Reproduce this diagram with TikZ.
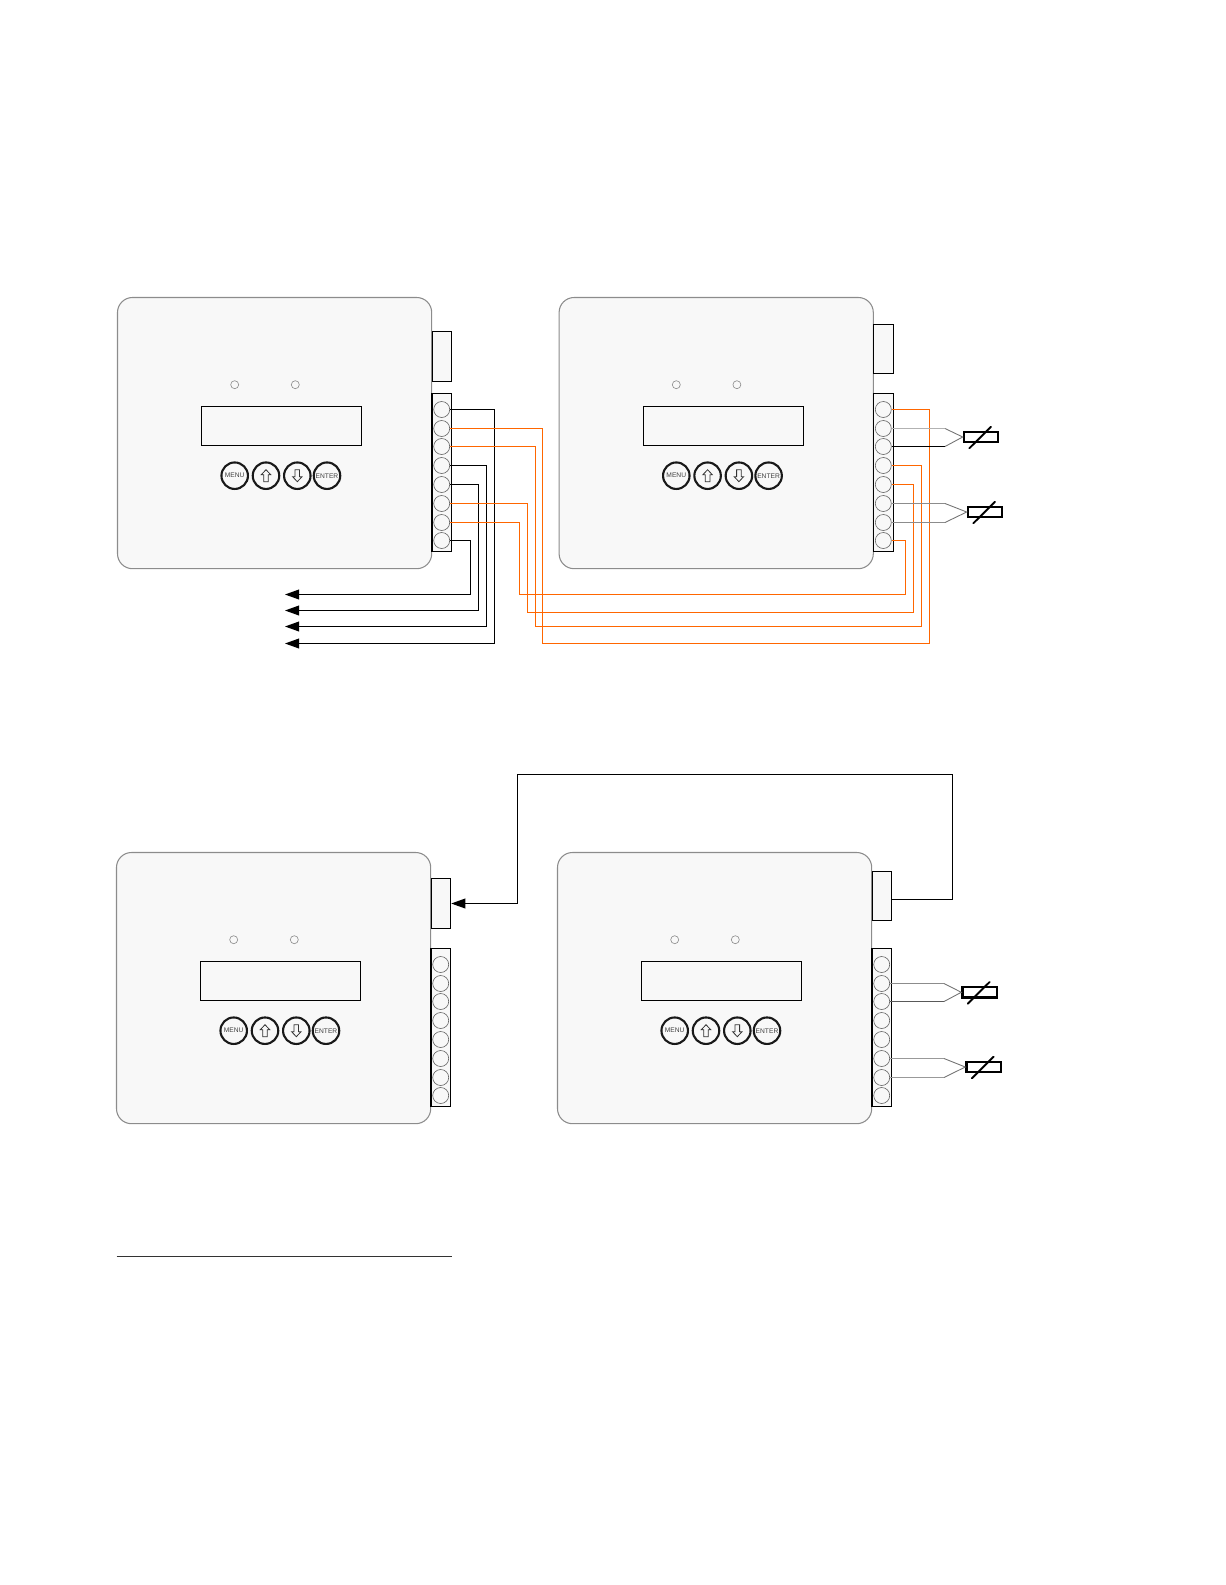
\documentclass[tikz,border=0pt]{standalone}
\usepackage{fontspec}
\setsansfont{Liberation Sans}
\usetikzlibrary{arrows.meta}
\definecolor{panelgray}{HTML}{F8F8F8}
\definecolor{wireorange}{HTML}{FF6600}
\tikzset{
    panel/.style={draw=black!45,fill=panelgray,line width=.6pt,rounded corners=.3cm},
    socket/.style={draw=black,fill=panelgray,line width=.6pt},
    termcirc/.style={circle,draw=black!60,fill=panelgray,inner sep=0pt,minimum size=.32cm,line width=.35pt},
    ledcirc/.style={circle,draw=black!45,inner sep=0pt,minimum size=.16cm,line width=.35pt},
    lcd/.style={draw=black,line width=.55pt},
    btn/.style={circle,draw=black!90,line width=1.2pt,inner sep=0pt,minimum size=.53cm,font=\sffamily\fontsize{3.8}{4}\selectfont,text=black!75},
    btnarrow/.style={draw=black!80,line width=.45pt},
    wire/.style={draw=black,line width=.6pt},
    owire/.style={draw=wireorange,line width=.6pt},
    sensewire/.style={draw=black!55,line width=.5pt},
    rtd/.style={draw=black,line width=1.3pt,inner sep=0pt,minimum width=.69cm,minimum height=.21cm,anchor=west},
    tip/.style={-{Triangle[length=8pt,width=5.6pt]}}
}
% one meter: name, shift x, shift y, top of socket, height of socket
\newcommand{\meter}[5]{
    \begin{scope}[shift={(#2,#3)}]
        \draw[panel] (117.5,297.5) rectangle (431.7,568.7);
        \node[ledcirc] (#1ledA) at (234.7,384.7) {};
        \node[ledcirc] (#1ledB) at (295.3,384.7) {};
        \draw[lcd] (201.5,406.5) rectangle (361.5,445.5);
        \node[btn] (#1menu) at (234.7,475.7) {MENU};
        \node[btn] (#1up) at (266,475.7) {};
        \node[btn] (#1dn) at (297.3,475.7) {};
        \node[btn] (#1enter) at (327,475.7) {ENTER};
        \foreach \cx/\dirn in {266/1,297.3/-1}{
            \draw[btnarrow,shift={(\cx,475.7)},yscale=\dirn] (0,-6) -- (4.7,-1) -- (2.3,-1) -- (2.3,6) -- (-2.3,6) -- (-2.3,-1) -- (-4.7,-1) -- cycle;
        }
        \node[socket,inner sep=0pt,minimum width=.39cm,minimum height=#5*.02cm,anchor=north west] (#1conn) at (431.7,#4) {};
        \draw[socket] (432,393.5) rectangle (451.5,551.5);
        \foreach \i/\ty in {1/409.5,2/428.5,3/446.5,4/465.5,5/484.5,6/503.5,7/522.5,8/540.5}{
            \node[termcirc] (#1t\i) at (441.7,\ty) {};
        }
    \end{scope}
}
% one sensor: name, tip x, tip y, bend x, upper and lower terminal, wire colours
\newcommand{\sensor}[8]{
    \node[rtd] (#1) at (#2,#3) {};
    \coordinate (#1tip) at (#2,#3);
    \draw[black,line width=1.1pt,line cap=round] ([shift={(6.6,11.3)}]#1tip) -- ([shift={(28.3,-10.3)}]#1tip);
    \draw[sensewire,#7] (#5.east) -- (#5.east -| #4,0);
    \draw[sensewire,#8] (#6.east) -- (#6.east -| #4,0);
    \draw[sensewire] (#5.east -| #4,0) -- (#1.west) -- (#6.east -| #4,0);
}
\begin{document}
\begin{tikzpicture}[x=.02cm,y=-.02cm]
    \useasboundingbox (0,0) rectangle (1225,1585);
    % top row
    \meter{a}{0}{0}{331.3}{50}
    \meter{b}{441.6}{0}{324.3}{49}
    % bottom row
    \meter{c}{-1}{555}{323.3}{50}
    \meter{d}{440}{555}{316.3}{49}
    % free ends of the outputs
    \coordinate (outA) at (285,594.5);
    \coordinate (outB) at (285,610.5);
    \coordinate (outC) at (285,626.5);
    \coordinate (outD) at (285,643.5);
    \draw[wire,tip] (at8.east) -| (470.5,594.5) -- (outA);
    \draw[wire,tip] (at5.east) -| (478.5,610.5) -- (outB);
    \draw[wire,tip] (at4.east) -| (486.5,626.5) -- (outC);
    \draw[wire,tip] (at1.east) -| (494.5,643.5) -- (outD);
    % orange links between the two meters
    \draw[owire] (at2.east) -| (542.5,643.5) -- (929.5,643.5) |- (bt1.east);
    \draw[owire] (at3.east) -| (535.5,626.5) -- (921.5,626.5) |- (bt4.east);
    \draw[owire] (at6.east) -| (527.5,612.5) -- (913.5,612.5) |- (bt5.east);
    \draw[owire] (at7.east) -| (519.5,594.5) -- (905.5,594.5) |- (bt8.east);
    % sensors
    \sensor{rtdA}{962.7}{437}{945}{bt2}{bt3}{black!30}{black}
    \sensor{rtdB}{966.7}{512}{945}{bt6}{bt7}{black!45}{black!45}
    \sensor{rtdC}{961.3}{992.3}{944}{dt2}{dt3}{black!45}{black!65}
    \sensor{rtdD}{965.3}{1067}{944}{dt6}{dt7}{black!40}{black!40}
    % link between the bottom meters
    \draw[wire,tip] (dconn.east |- 0,899.5) -- (952.5,899.5) |- (517.5,774.5) |- (cconn.east |- 0,903.5);
    % rule
    \coordinate (ruleA) at (116.5,1256.5);
    \coordinate (ruleB) at (451.5,1256.5);
    \draw[draw=black!80,line width=.6pt] (ruleA) -- (ruleB);
\end{tikzpicture}
\end{document}
